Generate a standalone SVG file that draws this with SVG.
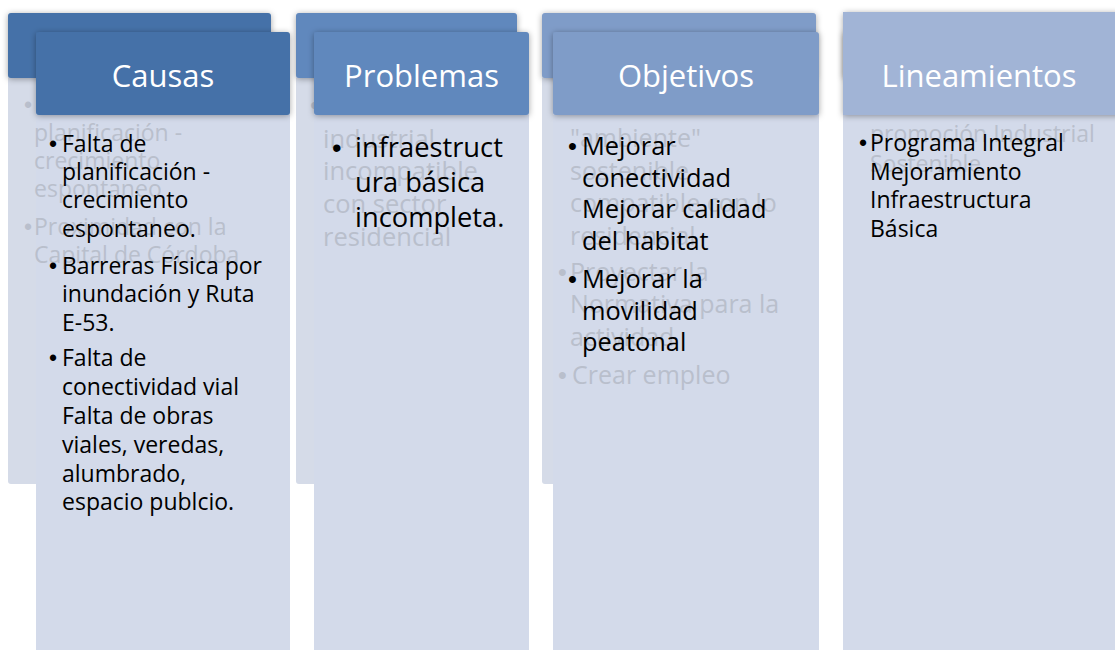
<svg xmlns="http://www.w3.org/2000/svg" width="1115" height="650" viewBox="0 0 1115 650">
<defs>
<filter id="sh" x="-10%" y="-20%" width="120%" height="150%">
<feDropShadow dx="0" dy="1" stdDeviation="3" flood-color="#000" flood-opacity="0.35"/>
</filter>
<style>
.body{fill:#d3daea}
.bbody{fill:#d5dbe8}
.ghost{font-family:"Open Sans","Liberation Sans",sans-serif;fill:#b9bfcc}
.txt{font-family:"Open Sans","Liberation Sans",sans-serif;fill:#000}
.bul{font-family:"Liberation Sans",Arial,sans-serif}
.title{font-family:"Open Sans","Liberation Sans",sans-serif;fill:#fff;font-size:31px;text-anchor:middle}
.c1{fill:#4571a8}
.c2{fill:#6088bd}
.c3{fill:#7f9cc8}
.c4{fill:#a1b4d6}
</style>
</defs>
<rect width="1115" height="650" fill="#fff"/>

<!-- back layer -->
<g id="back-layer">
<rect class="bbody" x="8" y="60" width="263" height="424" rx="3"/>
<rect class="c1" x="8" y="13" width="263" height="65" rx="3" filter="url(#sh)"/>
<rect class="bbody" x="296" y="60" width="221" height="424" rx="3"/>
<rect class="c2" x="296" y="13" width="221" height="65" rx="3" filter="url(#sh)"/>
<rect class="bbody" x="542" y="60" width="274" height="424" rx="3"/>
<rect class="c3" x="542" y="13" width="274" height="65" rx="3" filter="url(#sh)"/>
<rect class="c4" x="843" y="12" width="280" height="66" rx="3" filter="url(#sh)"/>
</g>

<!-- front bodies -->
<rect class="body" x="36" y="100" width="254" height="560"/>
<rect class="body" x="314" y="100" width="215" height="560"/>
<rect class="body" x="553" y="100" width="266" height="560"/>
<rect class="body" x="843" y="100" width="280" height="560"/>

<!-- ghost texts of back layer -->
<g id="ghost-text">
<g class="ghost" font-size="23">
<text class="bul" x="24" y="113">•</text>
<text x="34" y="141">planificación -</text>
<text x="34" y="169">crecimiento</text>
<text x="34" y="197">espontaneo</text>
<text class="bul" x="24" y="235">•</text>
<text x="34" y="235">Proximidad con la</text>
<text x="34" y="263">Capital de Córdoba</text>
</g>
<g class="ghost" font-size="25.5">
<text class="bul" x="310" y="114">•</text>
<text x="323" y="148">industrial</text>
<text x="323" y="180">incompatible</text>
<text x="323" y="213">con sector</text>
<text x="323" y="246">residencial</text>
</g>
<g class="ghost" font-size="25">
<text x="570" y="147">"ambiente"</text>
<text x="570" y="180">sostenible</text>
<text x="570" y="212">compatible con lo</text>
<text x="570" y="245">residencial</text>
<text class="bul" x="558" y="281">•</text>
<text x="570" y="281">Proyectar la</text>
<text x="570" y="313">Normativa para la</text>
<text x="570" y="346">actividad</text>
<text class="bul" x="558" y="384">•</text>
<text x="572" y="384">Crear empleo</text>
</g>
<g class="ghost" font-size="23">
<text x="870" y="142">promoción Industrial</text>
<text x="870" y="172">Sostenible</text>
</g>
</g>

<!-- front headers and text -->
<g id="causas">
<rect class="c1" x="36" y="32" width="254" height="83" rx="3" filter="url(#sh)"/>
<text class="title" x="163" y="87">Causas</text>
<g class="txt" font-size="23">
<text class="bul" x="49" y="152">•</text>
<text x="62" y="152">Falta de</text>
<text x="62" y="180">planificación -</text>
<text x="62" y="208">crecimiento</text>
<text x="62" y="237">espontaneo.</text>
<text class="bul" x="49" y="274">•</text>
<text x="62" y="274">Barreras Física por</text>
<text x="62" y="302">inundación y Ruta</text>
<text x="62" y="331">E-53.</text>
<text class="bul" x="49" y="366">•</text>
<text x="62" y="366">Falta de</text>
<text x="62" y="395">conectividad vial</text>
<text x="62" y="424">Falta de obras</text>
<text x="62" y="453">viales, veredas,</text>
<text x="62" y="482">alumbrado,</text>
<text x="62" y="510">espacio publcio.</text>
</g>
</g>

<g id="problemas">
<rect class="c2" x="314" y="32" width="215" height="83" rx="3" filter="url(#sh)"/>
<text class="title" x="421.5" y="87">Problemas</text>
<g class="txt" font-size="27.3">
<text class="bul" x="332" y="157">•</text>
<text x="355" y="157">infraestruct</text>
<text x="355" y="192">ura básica</text>
<text x="355" y="227">incompleta.</text>
</g>
</g>

<g id="objetivos">
<rect class="c3" x="553" y="32" width="266" height="83" rx="3" filter="url(#sh)"/>
<text class="title" x="686" y="87">Objetivos</text>
<g class="txt" font-size="25.4">
<text class="bul" x="568" y="155">•</text>
<text x="582" y="155">Mejorar</text>
<text x="582" y="186.5">conectividad</text>
<text x="582" y="218">Mejorar calidad</text>
<text x="582" y="249.5">del habitat</text>
<text class="bul" x="568" y="288">•</text>
<text x="582" y="288">Mejorar la</text>
<text x="582" y="319.5">movilidad</text>
<text x="582" y="351">peatonal</text>
</g>
</g>

<g id="lineamientos">
<rect class="c4" x="843" y="32" width="280" height="83" filter="url(#sh)"/>
<rect class="c4" x="843" y="12" width="280" height="100"/>
<text class="title" x="979" y="87">Lineamientos</text>
<g class="txt" font-size="23">
<text class="bul" x="859" y="151">•</text>
<text x="870" y="151">Programa Integral</text>
<text x="870" y="179.5">Mejoramiento</text>
<text x="870" y="208">Infraestructura</text>
<text x="870" y="236.5">Básica</text>
</g>
</g>

<g id="connectors"></g>
</svg>
